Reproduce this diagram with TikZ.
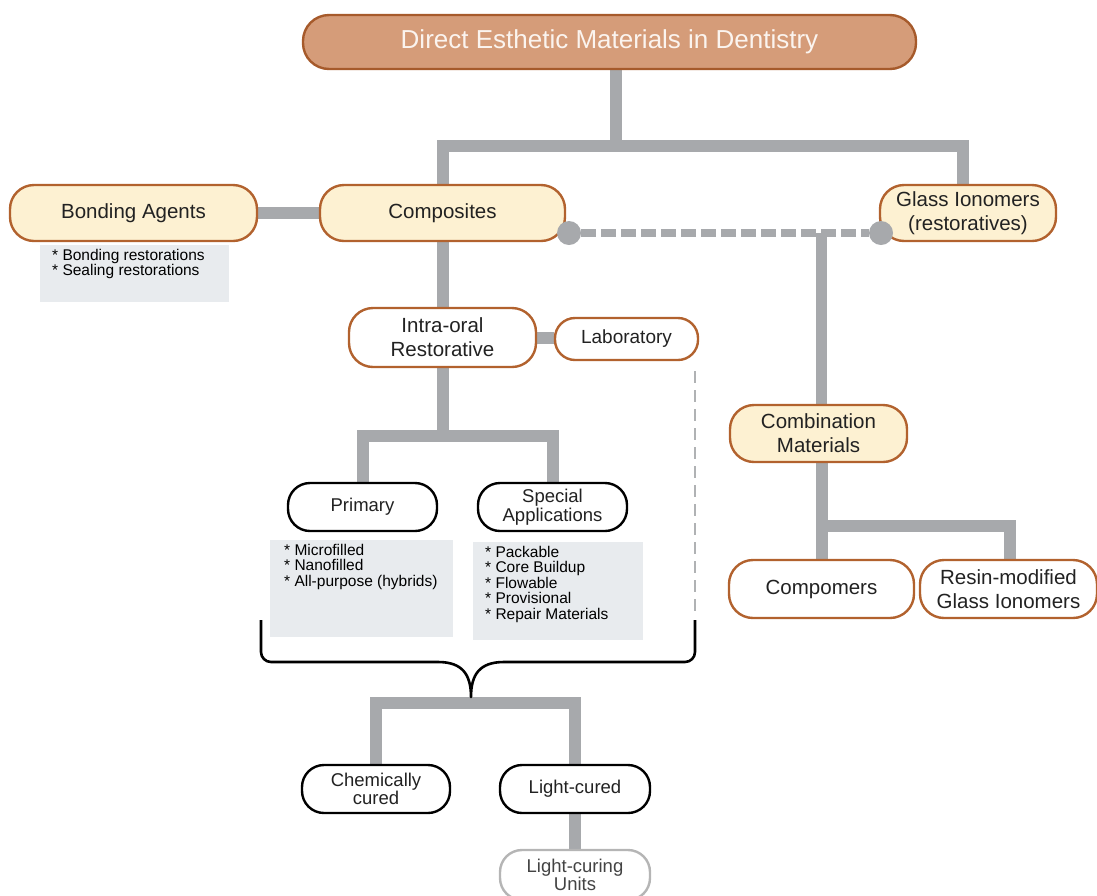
\documentclass[tikz,border=0pt]{standalone}
\usepackage{fontspec}
\setmainfont{Liberation Sans}
\usetikzlibrary{backgrounds}
\definecolor{bargray}{HTML}{A7A9AC}
\definecolor{titlefill}{HTML}{D59C79}
\definecolor{titledraw}{HTML}{A65A2B}
\definecolor{cream}{HTML}{FDF1D2}
\definecolor{brownb}{HTML}{B2622E}
\definecolor{listfill}{HTML}{E8EBEE}
\definecolor{txt}{HTML}{222222}
\definecolor{lcugray}{HTML}{B5B5B5}
\definecolor{titletxt}{HTML}{FBF4EF}
\begin{document}
\begin{tikzpicture}[x=1pt,y=1pt,
  base/.style={line width=2.4pt, inner sep=0pt, align=center, text=txt},
  bignode/.style={base, draw=brownb, rounded corners=24pt, font=\fontsize{20.5}{24}\selectfont},
  creamnode/.style={bignode, fill=cream},
  whitenode/.style={bignode, fill=white},
  blacknode/.style={base, draw=black, fill=white, rounded corners=22pt, font=\fontsize{18.5}{18.5}\selectfont},
  listbox/.style={fill=listfill, inner xsep=12pt, inner ysep=4pt, anchor=north west, text=black, font=\fontsize{15.5}{15.5}\selectfont},
  bar/.style={draw=bargray, line width=12pt, line join=miter},
  dashbar/.style={draw=bargray, line width=8pt, dash pattern=on 15pt off 5pt},
  dot/.style={circle, fill=bargray, minimum size=24pt, inner sep=0pt},
  labdash/.style={draw=bargray!90, line width=2pt, dash pattern=on 12pt off 7pt},
  bracestyle/.style={draw=black, line width=2.6pt, line join=round}]
\useasboundingbox (0,0) rectangle (1097,-895);

% nodes
\node[base, draw=titledraw, fill=titlefill, rounded corners=26pt, minimum width=613pt, minimum height=54pt,
      text=titletxt, font=\fontsize{26}{26}\selectfont] (title) at (609.5,-42) {Direct Esthetic Materials in Dentistry};
\node[creamnode, minimum width=247pt, minimum height=56pt] (bonding) at (133.5,-213) {Bonding Agents};
\node[creamnode, minimum width=245pt, minimum height=56pt] (composites) at (442.5,-213) {Composites};
\node[creamnode, minimum width=176pt, minimum height=56pt] (glass) at (968,-213) {Glass Ionomers\\(restoratives)};
\node[listbox] (bondlist) at (40,-245) {\parbox[c][49pt][t]{165pt}{\raggedright * Bonding restorations\\{}* Sealing restorations}};

\node[dot] (dotL) at (569,-233) {};
\node[dot] (dotR) at (881,-233) {};

\node[whitenode, minimum width=187pt, minimum height=59pt] (intra) at (442.5,-337.5) {Intra-oral\\Restorative};
\node[whitenode, rounded corners=20pt, minimum width=143pt, minimum height=42pt, font=\fontsize{19}{19}\selectfont] (lab) at (626.5,-339) {Laboratory};

\node[blacknode, minimum width=149pt, minimum height=48pt] (primary) at (362.5,-507) {Primary};
\node[blacknode, minimum width=149pt, minimum height=48pt] (special) at (552.5,-507) {Special\\Applications};
\node[listbox, inner xsep=14pt] (primlist) at (270,-540) {\parbox[c][89pt][t]{155pt}{\raggedright * Microfilled\\{}* Nanofilled\\{}* All-purpose (hybrids)}};
\node[listbox] (speclist) at (473,-542) {\parbox[c][90pt][t]{146pt}{\raggedright * Packable\\{}* Core Buildup\\{}* Flowable\\{}* Provisional\\{}* Repair Materials}};

\node[blacknode, minimum width=148pt, minimum height=48pt] (chem) at (376,-789) {Chemically\\cured};
\node[blacknode, minimum width=150pt, minimum height=48pt] (light) at (575,-789) {Light-cured};
\node[blacknode, draw=lcugray, text=txt!85, minimum width=150pt, minimum height=50pt] (lcu) at (575,-875) {Light-curing\\Units};

\node[creamnode, minimum width=177pt, minimum height=57pt] (combo) at (818.5,-433.5) {Combination\\Materials};
\node[whitenode, minimum width=185pt, minimum height=58pt] (compomers) at (821.5,-589) {Compomers};
\node[whitenode, minimum width=177pt, minimum height=58pt] (resin) at (1008.5,-589) {Resin-modified\\Glass Ionomers};

\coordinate (labend) at (695,-612);
\coordinate (brtip) at (471,-697);

% connectors
\begin{scope}[on background layer]
  \draw[bar] ([xshift=6pt]title.south) -- ([xshift=6pt]title.south |- 0,-146);
  \draw[bar] (composites.north) |- ([xshift=-5pt]glass.north |- 0,-146) -- ([xshift=-5pt]glass.north);
  \draw[bar] (bonding) -- (composites);
  \draw[bar] (composites.south) -- (intra.north);
  \draw[bar] (intra.east) -- (intra.east -| lab.west);
  \draw[bar] (intra.south) -- (intra.south |- 0,-436);
  \draw[bar] (primary.north) |- (special.north |- 0,-436) -- (special.north);
  \draw[dashbar] (dotL) -- (dotR);
  \draw[bar, line width=11pt] (compomers.north |- dotR) -- (compomers.north |- combo.north);
  \draw[bar] (compomers.north |- combo.south) -- (compomers.north |- 0,-526);
  \draw[bar] (compomers.north) |- ([xshift=1.5pt]resin.north |- 0,-526) -- ([xshift=1.5pt]resin.north);
  \draw[bar] (chem.north) |- ([yshift=-6pt]light.north |- brtip) -- (light.north);
  \draw[bar] (light.south) -- (lcu.north);
\end{scope}
\draw[labdash] ([yshift=-10pt]lab.south -| labend) -- (labend);

% brace
\draw[bracestyle] (261,-620) -- (261,-652) arc[start angle=180, end angle=270, radius=10pt]
  -- (438,-662) .. controls (462,-662) and (471,-674) .. (brtip)
  .. controls (471,-674) and (480,-662) .. (504,-662)
  -- (685,-662) arc[start angle=270, end angle=360, radius=10pt] -- (695,-620);
\end{tikzpicture}
\end{document}
